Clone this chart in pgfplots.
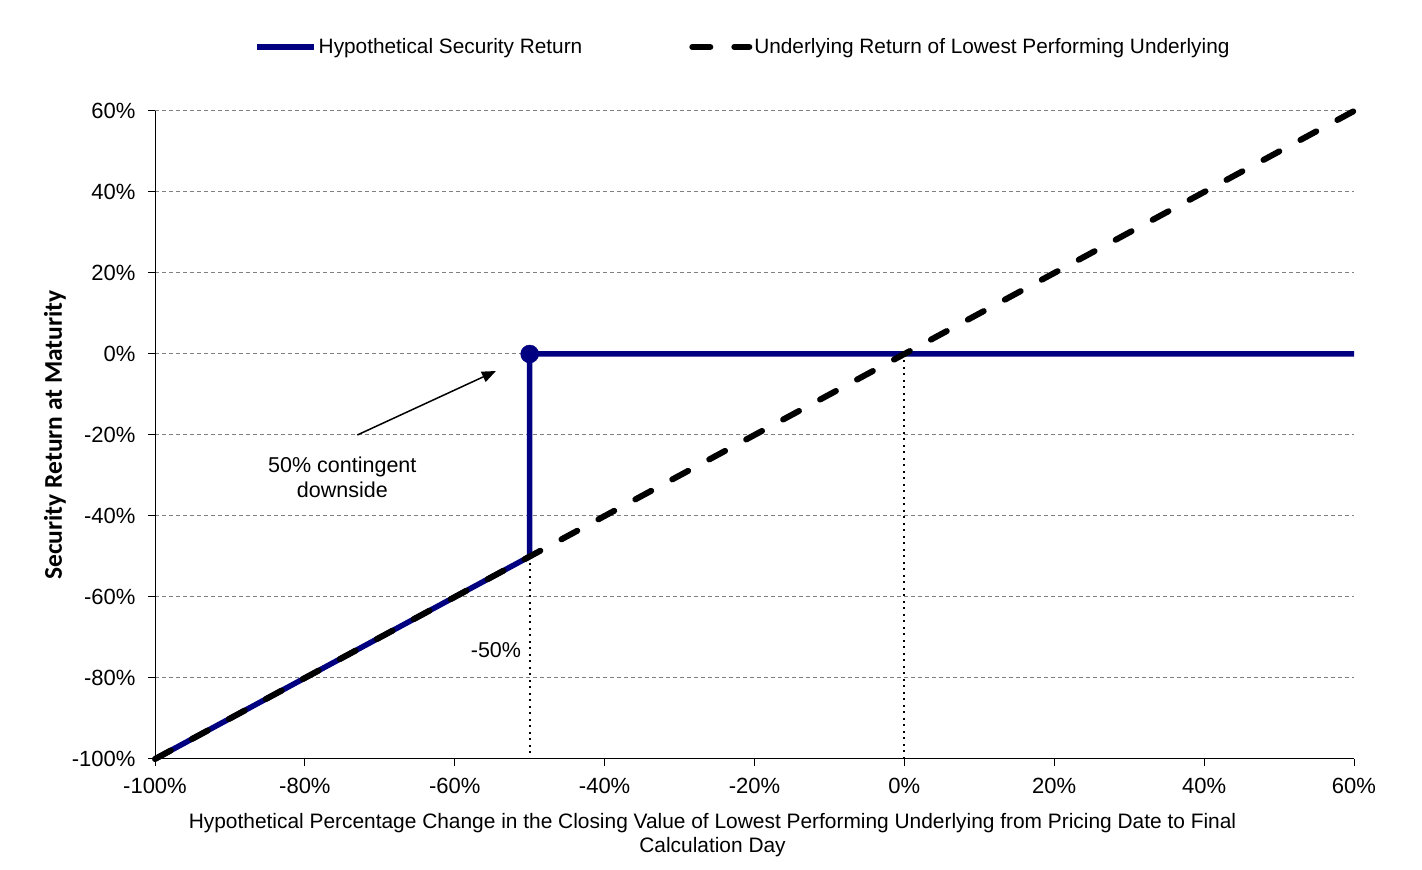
\documentclass[border=0pt]{standalone}
\usepackage{fontspec}
\setmainfont{Liberation Sans}
\newfontfamily\carlito{Carlito}
\usepackage{pgfplots}
\pgfplotsset{compat=1.18}
\usetikzlibrary{arrows.meta}
\definecolor{navyblue}{RGB}{0,0,128}
\definecolor{gridgray}{RGB}{128,128,128}
\begin{document}
\begin{tikzpicture}
\useasboundingbox (0,0) rectangle (1422pt,870pt);
\begin{axis}[
  at={(155pt,111pt)}, anchor=south west,
  scale only axis, width=1199pt, height=648pt,
  xmin=-100, xmax=60, ymin=-100, ymax=60,
  axis x line*=bottom, axis y line*=left,
  axis line style={-, line width=1pt, black},
  xtick={-100,-80,...,60}, ytick={-100,-80,...,60},
  xticklabels={-100\%,-80\%,-60\%,-40\%,-20\%,0\%,20\%,40\%,60\%},
  yticklabels={-100\%,-80\%,-60\%,-40\%,-20\%,0\%,20\%,40\%,60\%},
  tick align=outside, major tick length=7pt,
  tick style={line width=1pt, black},
  minor tick num=0,
  ymajorgrids,
  grid style={gridgray, line width=1pt, dash pattern=on 4pt off 3pt},
  ticklabel style={font=\fontsize{22}{26}\selectfont},
  yticklabel style={xshift=-9pt},
  xticklabel style={yshift=-9pt},
  clip=false,
  xlabel={Hypothetical Percentage Change in the Closing Value of Lowest Performing Underlying from Pricing Date to Final\\Calculation Day},
  xlabel style={align=center, font=\fontsize{20.9}{24}\selectfont, at={(axis description cs:0.465,0)}, anchor=north, yshift=-51pt},
  ylabel={Security Return at Maturity},
  ylabel style={font=\carlito\bfseries\fontsize{25.5}{29}\selectfont, at={(axis description cs:-0.0834,0.5)}, anchor=center},
  legend image code/.code={\draw[#1] (0pt,0pt) -- (57pt,0pt);},
  legend style={draw=none, fill=none, at={(0.0801,1.0988)}, anchor=west,
    legend columns=2, font=\fontsize{20.8}{24}\selectfont,
    /tikz/every even column/.append style={column sep=105pt}},
  legend cell align=left,
]
\addplot[forget plot, black, line width=2pt, dash pattern=on 2pt off 4.5pt] coordinates {(-50,-50) (-50,-100)};
\addplot[forget plot, black, line width=2pt, dash pattern=on 2pt off 4.5pt] coordinates {(0,0) (0,-100)};
\addplot[navyblue, line width=5.5pt] coordinates {(-100,-100) (-50,-50) (-50,0) (60,0)};
\addlegendentry{Hypothetical Security Return}
\addplot[forget plot, only marks, mark=*, mark size=9pt, navyblue] coordinates {(-50,0)};
\addplot[black, line width=6pt, line cap=round, dash pattern=on 18pt off 24pt] coordinates {(-100,-100) (60,60)};
\addlegendentry{Underlying Return of Lowest Performing Underlying}
\node[font=\fontsize{21.5}{25}\selectfont, align=center] at (axis cs:-75,-30.4) {50\% contingent\\downside};
\draw[-{Triangle[length=14pt,width=11pt]}, line width=1.5pt] (axis cs:-73,-20) -- (axis cs:-54.5,-4.2);
\node[font=\fontsize{21.5}{25}\selectfont] at (axis cs:-54.5,-73.1) {-50\%};
\end{axis}
\end{tikzpicture}
\end{document}
